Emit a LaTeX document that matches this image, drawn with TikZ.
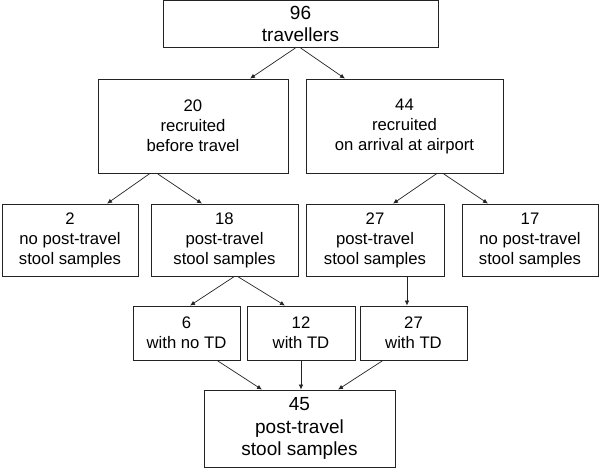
\documentclass[tikz,border=0pt]{standalone}
\usepackage{fontspec}
\setmainfont{Liberation Sans}
\usetikzlibrary{arrows.meta}
\definecolor{flowLine}{RGB}{35,35,35}

\begin{document}
\begin{tikzpicture}[x=1pt, y=-1pt,
  box/.style={draw=flowLine, line width=0.8pt, align=center, inner sep=0pt,
    font=\fontsize{16.7}{20}\selectfont},
  bigbox/.style={box, font=\fontsize{19}{22.5}\selectfont},
  link/.style={flowLine, line width=0.7pt, -{Latex[length=5pt,width=4.5pt]}}]
\useasboundingbox (0,0) rectangle (600,469);
\node[bigbox, minimum width=275, minimum height=47] (trav) at (300.5,24) {96\\travellers};
\node[box, minimum width=190, minimum height=94] (before) at (193,126) {20\\recruited\\before travel};
\node[box, minimum width=197, minimum height=94] (arrival) at (404.5,126) {44\\recruited\\on arrival at airport};
\node[box, minimum width=136, minimum height=72] (nobefore) at (70,240) {2\\no post-travel\\stool samples};
\node[box, minimum width=147, minimum height=72] (sampbefore) at (224.5,240) {18\\post-travel\\stool samples};
\node[box, minimum width=138, minimum height=72] (samparrival) at (375,240) {27\\post-travel\\stool samples};
\node[box, minimum width=136, minimum height=72] (noarrival) at (530,240) {17\\no post-travel\\stool samples};
\node[box, minimum width=107, minimum height=54] (notd) at (186.5,333) {6\\with no TD};
\node[box, minimum width=108, minimum height=54] (tdbefore) at (301,333) {12\\with TD};
\node[box, minimum width=107, minimum height=54] (tdarrival) at (413.5,333) {27\\with TD};
\node[bigbox, minimum width=191, minimum height=77] (total) at (299.5,428.5) {45\\post-travel\\stool samples};
\draw[link] ([xshift=-5pt]trav.south) -- ([xshift=57pt]before.north);
\draw[link] (trav.south) -- ([xshift=-59.5pt]arrival.north);
\draw[link] ([xshift=-43pt]before.south) -- ([xshift=37pt]nobefore.north);
\draw[link] ([xshift=-36pt]before.south) -- ([xshift=-22.5pt]sampbefore.north);
\draw[link] ([xshift=32.5pt]arrival.south) -- ([xshift=18pt]samparrival.north);
\draw[link] ([xshift=38.5pt]arrival.south) -- ([xshift=-42pt]noarrival.north);
\draw[link] ([xshift=10pt]sampbefore.south) -- ([xshift=3.5pt]notd.north);
\draw[link] ([xshift=13pt]sampbefore.south) -- ([xshift=-16pt]tdbefore.north);
\draw[link] ([xshift=32pt]samparrival.south) -- ([xshift=-6.5pt]tdarrival.north);
\draw[link] ([xshift=30.5pt]notd.south) -- ([xshift=-37.5pt]total.north);
\draw[link] (tdbefore.south) -- (tdbefore.south |- total.north);
\draw[link] ([xshift=-30.5pt]tdarrival.south) -- ([xshift=38.5pt]total.north);
\end{tikzpicture}
\end{document}
